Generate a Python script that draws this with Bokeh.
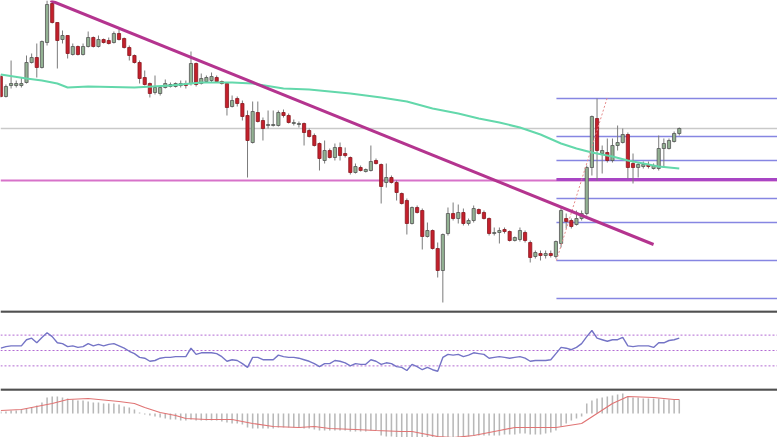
from bokeh.plotting import figure
from bokeh.layouts import column
from bokeh.models import Range1d, Span
from bokeh.embed import file_html
from bokeh.resources import INLINE

# ---------------- data ----------------
opens = [234,214,225,225,225,228,248,253,243,268,
         307,288,271,275,256,264,256,264,273,264,
         271,270,268,277,272,263,255,248,233,227,
         218,217,223,224,224,225,227,227,247,227,
         229,230,233,229,227,204,212,207,195,168,
         198,190,185,185,185,198,195,187,186,187,
         180,175,167,150,160,153,163,157,153,138,
         143,139,140,150,146,128,133,128,117,110,
         87,103,100,74,80,62,40,77,97,92,
         98,87,90,101,98,92,77,78,81,79,
         70,71,78,68,54,57,55,57,54,67,
         92,90,86,92,97,143,192,157,158,150,
         165,168,176,147,143,144,146,142,142,162,
         162,169,177]
highs = [236,226,250,230,233,255,257,267,270,310,
         310,288,280,275,267,265,267,279,274,275,
         272,273,279,281,273,265,256,250,240,228,
         235,224,231,228,228,230,230,259,248,237,
         235,238,235,230,228,215,214,210,200,209,
         209,193,200,200,200,201,197,191,189,188,
         182,177,168,170,162,167,168,163,154,147,
         145,142,165,152,147,147,135,130,118,112,
         104,105,102,88,81,68,77,103,108,106,
         102,92,105,102,100,93,83,83,83,80,
         74,83,80,70,60,60,60,60,70,104,
         97,92,100,100,145,195,212,165,172,172,
         185,182,178,157,148,149,149,147,175,172,
         172,179,183]
lows = [213,213,222,223,223,227,247,233,242,265,
        287,242,267,252,255,255,255,263,263,263,
        267,266,267,270,262,250,247,227,225,213,
        216,215,222,223,223,223,222,225,224,226,
        228,228,228,226,195,203,204,190,133,167,
        188,170,182,184,184,193,187,185,183,165,
        173,164,140,147,152,150,150,153,136,137,
        139,138,139,146,107,123,127,110,106,76,
        86,97,61,73,61,33,8,75,90,87,
        85,85,88,96,91,75,75,67,77,69,
        69,69,68,48,52,50,52,53,52,63,
        82,82,85,90,95,135,130,137,148,148,
        160,167,132,127,133,142,142,141,140,143,
        161,168,175]
closes = [214,224,227,227,227,248,253,243,269,306,
          288,270,275,257,264,256,264,273,264,271,
          268,267,277,271,263,255,248,232,226,217,
          223,223,227,226,227,227,225,247,226,232,
          233,234,229,227,203,210,207,194,170,199,
          189,182,186,186,198,195,188,188,187,178,
          174,165,152,160,153,163,155,155,138,144,
          140,141,149,147,124,133,128,118,107,87,
          103,98,74,80,62,40,76,97,92,98,
          87,90,102,97,92,77,78,80,79,70,
          73,80,70,53,58,55,57,55,69,100,
          89,84,92,97,143,194,160,160,150,165,
          168,176,143,143,146,146,144,145,162,167,
          170,177,182]

ma_x = [0,5,8,11,13,17,26,33,39,45,49,55,60,68,74,79,84,89,93,97,
        101,105,109,112,115,119,122,125,128,132]
ma_y = [236,232,230,227,223,224,223,225,228,228,227,222,221,217,213,209,
        202,197,192,188,183,176,167,162,158,154,150,147,144,142]

trend_x = [9.67, 127.0]
trend_y = [310, 66]

grey_level = 182
pink_level = 130
fib_levels = [212, 174, 150, 112, 88, 50, 12]
fib_mid = 131
fib_start = 108.1
fib_dash_x = [108.1, 118.0]
fib_dash_y = [50, 213]

rsi = [53,55,56,56,56,64,66,60,67,73,
       68,60,59,55,56,54,55,59,56,58,
       56,58,59,56,53,49,46,41,40,36,
       37,40,41,41,42,42,42,53,45,47,
       47,47,46,42,36,38,37,33,28,41,
       41,38,38,38,44,42,41,41,40,38,
       36,33,29,33,33,37,36,34,30,33,
       32,32,38,36,32,34,33,29,28,24,
       32,29,25,28,25,23,41,45,44,45,
       42,44,47,46,45,40,41,42,41,40,
       41,42,40,36,37,37,37,38,46,54,
       53,51,54,59,68,76,66,64,62,64,
       64,67,56,55,56,56,56,54,60,60,
       63,64,66]
rsi_levels = [70, 50, 30]

hist = [2,2,3,3,4,5,6,8,11,16,
        17,17,16,15,14,13,13,12,11,11,
        10,10,10,9,7,6,4,1,-1,-2,
        -3,-4,-5,-6,-6,-7,-7,-6,-7,-7,
        -7,-7,-7,-8,-9,-10,-10,-11,-14,-15,
        -15,-15,-15,-15,-14,-14,-14,-14,-14,-15,
        -15,-16,-17,-17,-17,-17,-17,-17,-18,-18,
        -18,-18,-17,-17,-22,-23,-23,-24,-24,-25,
        -25,-25,-26,-26,-26,-26,-25,-24,-24,-24,
        -23,-23,-22,-22,-22,-22,-22,-22,-21,-21,
        -21,-20,-20,-21,-21,-21,-20,-19,-17,-13,
        -10,-7,-5,-3,10,13,15,16,17,18,
        19,20,17,16,16,15,15,15,15,14,
        14,14,14]
sig_x = [0,4,6,10,13,17,19,23,26,28,31,34,36,40,45,49,53,58,61,64,
         69,73,78,80,85,88,92,97,100,103,108,113,116,119,122,127,131,132]
sig_y = [3,4,6,10,14,15,14,12,10,6,1,-2,-5,-6,-6,-10,-13,-14,-13,-15,
         -16,-17,-18,-18,-23,-24,-22,-17,-14,-14,-14,-10,0,10,17,16,14,14]

# ---------------- chart ----------------
W = 777
idx = list(range(len(opens)))
xr = Range1d(-0.06, 151.11)

def base_fig(h, yr):
    f = figure(width=W, height=h, x_range=xr, y_range=yr,
               output_backend="svg", toolbar_location=None,
               x_axis_location=None, y_axis_location=None,
               min_border=0, outline_line_color=None,
               background_fill_color="white", border_fill_color="white")
    f.grid.visible = False
    return f

p = base_fig(310, Range1d(0, 310))

p.add_layout(Span(location=grey_level, dimension="width", line_color="#c9c9c9",
                  line_width=1.5, level="underlay"))
p.add_layout(Span(location=pink_level, dimension="width", line_color="#d772c9",
                  line_width=2, level="underlay"))

n = len(fib_levels)
p.segment(x0=[fib_start] * n, y0=fib_levels, x1=[xr.end] * n, y1=fib_levels,
          line_color="#8686e2", line_width=1.3)
p.segment(x0=[fib_start], y0=[fib_mid], x1=[xr.end], y1=[fib_mid],
          line_color="#a845c4", line_width=3)

# wicks
p.segment(x0=idx, y0=lows, x1=idx, y1=highs, line_color="#7b7b7b", line_width=1)

bx, bt, bb, rx, rt, rb = [], [], [], [], [], []
for i, o, c in zip(idx, opens, closes):
    if c >= o:
        bx.append(i); bt.append(c); bb.append(o)
    else:
        rx.append(i); rt.append(o); rb.append(c)
p.vbar(x=bx, top=bt, bottom=bb, width=0.62, fill_color="#93b293",
       line_color="#555555", line_width=0.8)
p.vbar(x=rx, top=rt, bottom=rb, width=0.62, fill_color="#c4202c",
       line_color="#8a1820", line_width=0.8)

p.line(ma_x, ma_y, line_color="#63d8ab", line_width=2)
p.line(fib_dash_x, fib_dash_y, line_color="#e48a8a", line_width=1,
       line_dash="2 2")
p.line(trend_x, trend_y, line_color="#b4348f", line_width=3)

# RSI panel
r = base_fig(78, Range1d(0.6, 102))
for lv in rsi_levels:
    r.add_layout(Span(location=lv, dimension="width", line_color="#b36ad3",
                      line_width=1, line_dash="2 2", level="underlay"))
r.add_layout(Span(location=100.7, dimension="width", line_color="#505050",
                  line_width=2.5))
r.line(idx, rsi, line_color="#7474c6", line_width=1.4)

# MACD panel
m = base_fig(49, Range1d(-24, 25))
m.vbar(x=idx, top=hist, bottom=0, width=0.3, fill_color="#b8b8b8",
       line_color=None)
m.line(sig_x, sig_y, line_color="#e07474", line_width=1.2)
m.add_layout(Span(location=24, dimension="width", line_color="#505050",
                  line_width=2.5))

layout = column(p, r, m, spacing=0)
open("out.html", "w").write(file_html(layout, INLINE))
